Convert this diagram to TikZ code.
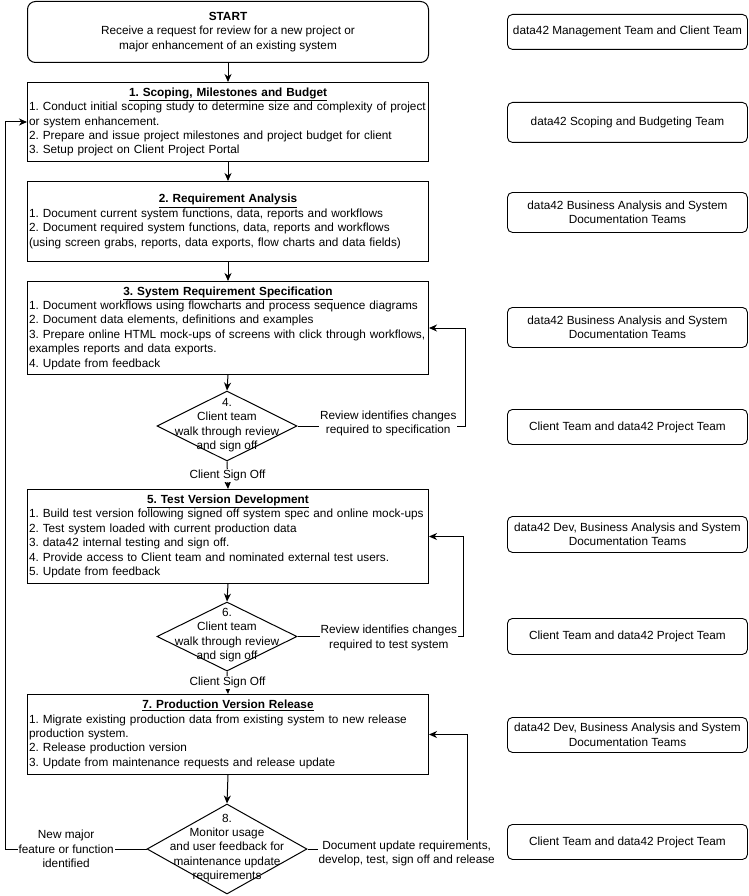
\documentclass[tikz,border=0pt]{standalone}
\usepackage{fontspec}
\setmainfont{Liberation Sans}
\usetikzlibrary{shapes.geometric,arrows.meta,calc}
\begin{document}
\frenchspacing
\hyphenpenalty=10000
\exhyphenpenalty=10000
\begin{tikzpicture}[x=1pt,y=-1pt,
  every node/.style={font=\fontsize{11.8}{14.4}\selectfont},
  startbox/.style={draw, line width=1pt, rounded corners=8pt, minimum width=401pt, minimum height=61pt, inner sep=0pt, align=center, anchor=north west},
  stepbox/.style={draw, line width=1pt, text width=398pt, inner xsep=1.5pt, inner ysep=0pt, align=left, anchor=north west},
  teambox/.style={draw, line width=0.9pt, rounded corners=5pt, minimum width=240pt, align=center, inner sep=0pt, anchor=north west},
  dec/.style={draw, line width=1pt, diamond, inner sep=0pt},
  dectext/.style={align=center, inner sep=0pt},
  arr/.style={line width=1pt, -{Stealth[length=8pt,width=7pt,inset=2.5pt]}},
  lbl/.style={fill=white, inner sep=1pt, align=center},
]
\useasboundingbox (0,0) rectangle (748,896);

% main column
\node[startbox] (start) at (27,1) {\textbf{START}\\Receive a request for review for a new project or\\major enhancement of an existing system};

\node[stepbox, minimum height=79pt] (b1) at (27,82) {{\centering\textbf{\underline{1. Scoping, Milestones and Budget}}\par}1. Conduct initial scoping study to determine size and complexity of project\\or system enhancement.\\2. Prepare and issue project milestones and project budget for client\\3. Setup project on Client Project Portal};

\node[stepbox, minimum height=80pt] (b2) at (27,181) {{\centering\textbf{\underline{2. Requirement Analysis}}\par}1. Document current system functions, data, reports and workflows\\2. Document required system functions, data, reports and workflows\\(using screen grabs, reports, data exports, flow charts and data fields)};

\node[stepbox, minimum height=93pt] (b3) at (27,281) {{\centering\textbf{\underline{3. System Requirement Specification}}\par}1. Document workflows using flowcharts and process sequence diagrams\\2. Document data elements, definitions and examples\\3. Prepare online HTML mock-ups of screens with click through workflows,\\examples reports and data exports.\\4. Update from feedback};

\node[dec, minimum width=140pt, minimum height=70pt] (d4) at (227,426) {};
\node[dectext] (d4t) at (227,425) {4.\\Client team\\walk through review\\and sign off};

\node[stepbox, minimum height=94pt] (b5) at (27,489) {{\centering\textbf{\underline{5. Test Version Development}}\par}1. Build test version following signed off system spec and online mock-ups\\2. Test system loaded with current production data\\3. data42 internal testing and sign off.\\4. Provide access to Client team and nominated external test users.\\5. Update from feedback};

\node[dec, minimum width=140pt, minimum height=69pt] (d6) at (227,636.5) {};
\node[dectext] (d6t) at (227,635) {6.\\Client team\\walk through review\\and sign off};

\node[stepbox, minimum height=80pt] (b7) at (27,694) {{\centering\textbf{\underline{7. Production Version Release}}\par}1. Migrate existing production data from existing system to new release\\production system.\\2. Release production version\\3. Update from maintenance requests and release update};

\node[dec, minimum width=160pt, minimum height=90pt] (d8) at (227,849) {};
\node[dectext] (d8t) at (227,848) {8.\\Monitor usage\\and user feedback for\\maintenance update\\requirements};

% team boxes
\node[teambox, minimum height=35pt] (tA) at (507,14) {data42 Management Team and Client Team};
\node[teambox, minimum height=40pt] (tB) at (507,102) {data42 Scoping and Budgeting Team};
\node[teambox, minimum height=40pt] (tC) at (507,192) {data42 Business Analysis and System\\Documentation Teams};
\node[teambox, minimum height=40pt] (tD) at (507,307) {data42 Business Analysis and System\\Documentation Teams};
\node[teambox, minimum height=35pt] (tE) at (507,409) {Client Team and data42 Project Team};
\node[teambox, minimum height=36pt] (tF) at (507,516) {data42 Dev, Business Analysis and System\\Documentation Teams};
\node[teambox, minimum height=36pt] (tG) at (507,618) {Client Team and data42 Project Team};
\node[teambox, minimum height=35pt] (tH) at (507,717) {data42 Dev, Business Analysis and System\\Documentation Teams};
\node[teambox, minimum height=35pt] (tI) at (507,824) {Client Team and data42 Project Team};

% connectors
\draw[arr] (start.south) -- (b1.north);
\draw[arr] (b1.south) -- (b2.north);
\draw[arr] (b2.south) -- (b3.north);
\draw[arr] (b3.south) -- (d4.north);
\draw[arr] (d4.south) -- node[lbl] (s4) {Client Sign Off} (b5.north);
\draw[arr] (d4.east) -- node[lbl, pos=0.54, yshift=2.5pt] (r4) {Review identifies changes\\required to specification} ++(168,0) |- (b3.east);
\draw[arr] (b5.south) -- (d6.north);
\draw[arr] (d6.south) -- node[lbl] (s6) {Client Sign Off} (b7.north);
\draw[arr] (d6.east) -- node[lbl, pos=0.55, yshift=-1.5pt] (r6) {Review identifies changes\\required to test system} ++(166,0) |- (b5.east);
\draw[arr] (b7.south) -- (d8.north);
\draw[arr] (d8.east) -- node[lbl, pos=0.62, yshift=-4.5pt] (r8) {Document update requirements,\\develop, test, sign off and release} ++(160,0) |- (b7.east);
\draw[arr] (d8.west) -- node[lbl, pos=0.57] (l8) {New major\\feature or function\\identified} ++(-141,0) |- (b1.west);
\end{tikzpicture}
\end{document}
